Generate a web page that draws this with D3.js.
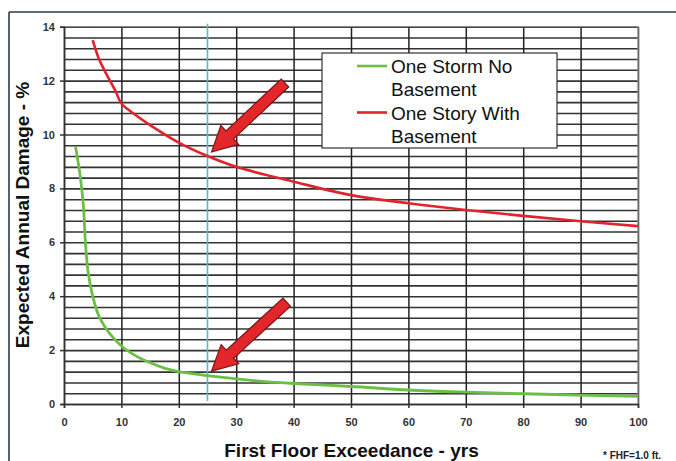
<!DOCTYPE html>
<html>
<head>
<meta charset="utf-8">
<script src="https://cdn.jsdelivr.net/npm/d3@7"></script>
<style>
  html, body { margin: 0; padding: 0; background: #fff; }
  svg { display: block; font-family: "Liberation Sans", Arial, sans-serif; }
</style>
</head>
<body>
<svg id="chart" width="676" height="461"></svg>
<script>
// ---- data ----
const noBasementX = [2, 2.8, 3.4, 3.7, 4.2, 5, 6, 7, 8, 10, 12, 14, 16, 18, 20, 25, 30, 35, 40, 50, 60, 70, 80, 90, 100];
const noBasementY = [9.55, 8.5, 7.3, 6.1, 4.9, 4.0, 3.3, 2.9, 2.6, 2.15, 1.85, 1.62, 1.45, 1.3, 1.2, 1.05, 0.93, 0.83, 0.76, 0.65, 0.52, 0.44, 0.38, 0.33, 0.28];
const basementX = [5, 6, 7, 8, 9, 10, 12, 15, 20, 25, 30, 40, 50, 60, 70, 80, 90, 100];
const basementY = [13.5, 12.85, 12.4, 12.0, 11.6, 11.15, 10.8, 10.35, 9.7, 9.2, 8.8, 8.25, 7.75, 7.45, 7.2, 6.98, 6.78, 6.6];
const seriesNames = ["One Storm No Basement", "One Story With Basement"];
const xTicks = [0, 10, 20, 30, 40, 50, 60, 70, 80, 90, 100];
const yTicks = [0, 2, 4, 6, 8, 10, 12, 14];
const yGridStep = 0.4;
const markerX = 25;
// arrows: tip and tail in data units
const arrowTips = [[25.7, 9.35], [25.7, 1.22]];
const arrowTails = [[38.5, 11.91], [38.8, 3.78]];

// ---- layout ----
const svg = d3.select("#chart");
const pLeft = 64, pRight = 638, pTop = 26.7, pBottom = 404;
const x = d3.scaleLinear().domain([0, 100]).range([pLeft, pRight]);
const y = d3.scaleLinear().domain([0, 14]).range([pBottom, pTop]);

// outer frame
svg.append("line").attr("x1", 9).attr("x2", 676).attr("y1", 12).attr("y2", 12)
  .attr("stroke", "#2c3b46").attr("stroke-width", 1.6);
svg.append("line").attr("x1", 9).attr("x2", 9).attr("y1", 12).attr("y2", 461)
  .attr("stroke", "#2c3b46").attr("stroke-width", 1.6);

// horizontal grid
const yGrid = d3.range(0, 14 + 1e-6, yGridStep);
svg.append("g").attr("transform", `translate(${pLeft},0)`)
  .call(d3.axisLeft(y).tickValues(yGrid).tickSize(-(pRight - pLeft)).tickFormat(""))
  .call(g => g.select(".domain").remove())
  .call(g => g.selectAll("line").attr("stroke", "#333").attr("stroke-width", 1.6));

// vertical grid
svg.append("g").attr("transform", `translate(0,${pBottom})`)
  .call(d3.axisBottom(x).tickValues(xTicks).tickSize(-(pBottom - pTop)).tickFormat(""))
  .call(g => g.select(".domain").remove())
  .call(g => g.selectAll("line").attr("stroke", "#222").attr("stroke-width", 1.5));

// right & top borders lighter
svg.append("line").attr("x1", pRight).attr("x2", pRight).attr("y1", pTop).attr("y2", pBottom)
  .attr("stroke", "#999").attr("stroke-width", 1.2);
svg.append("line").attr("x1", pLeft).attr("x2", pRight).attr("y1", pTop).attr("y2", pTop)
  .attr("stroke", "#888").attr("stroke-width", 1.2);

// axes
const yAxis = svg.append("g").attr("transform", `translate(${pLeft},0)`)
  .call(d3.axisLeft(y).tickValues(yTicks).tickSize(4).tickPadding(5).tickFormat(d3.format("d")));
yAxis.select(".domain").attr("stroke", "#333").attr("stroke-width", 1.5);
yAxis.selectAll("line").attr("stroke", "#333").attr("stroke-width", 1.5);
yAxis.selectAll("text").attr("font-size", 11).attr("font-weight", "bold").attr("fill", "#333")
  .attr("font-family", "Liberation Sans, Arial, sans-serif");

const xAxis = svg.append("g").attr("transform", `translate(0,${pBottom})`)
  .call(d3.axisBottom(x).tickValues(xTicks).tickSize(4).tickPadding(10).tickFormat(d3.format("d")));
xAxis.select(".domain").attr("stroke", "#333").attr("stroke-width", 1.5);
xAxis.selectAll("line").attr("stroke", "#333").attr("stroke-width", 1.5);
xAxis.selectAll("text").attr("font-size", 11).attr("font-weight", "bold").attr("fill", "#333")
  .attr("font-family", "Liberation Sans, Arial, sans-serif");

// cyan marker line
svg.append("line").attr("x1", x(markerX)).attr("x2", x(markerX))
  .attr("y1", pTop - 3).attr("y2", pBottom - 3)
  .attr("stroke", "#5ab8c0").attr("stroke-width", 1.6);

// series
const line = d3.line().x(d => x(d[0])).y(d => y(d[1])).curve(d3.curveCatmullRom.alpha(0.5));
svg.append("path").datum(basementX.map((v, i) => [v, basementY[i]]))
  .attr("d", line).attr("fill", "none").attr("stroke", "#e0242c").attr("stroke-width", 2.6);
svg.append("path").datum(noBasementX.map((v, i) => [v, noBasementY[i]]))
  .attr("d", line).attr("fill", "none").attr("stroke", "#6cbf45").attr("stroke-width", 2.8);

// arrows
arrowTips.forEach((tip, i) => {
  const tx = x(tip[0]), ty = y(tip[1]);
  const bx = x(arrowTails[i][0]), by = y(arrowTails[i][1]);
  const L = Math.hypot(bx - tx, by - ty);
  const ang = Math.atan2(ty - by, tx - bx) * 180 / Math.PI;
  const hl = 25, hw = 13, sw = 5.5;
  const pts = [[0, 0], [-hl, -hw], [-hl, -sw], [-L, -sw], [-L, sw], [-hl, sw], [-hl, hw]];
  svg.append("path")
    .attr("d", "M" + pts.map(p => p.join(",")).join("L") + "Z")
    .attr("transform", `translate(${tx},${ty}) rotate(${ang})`)
    .attr("fill", "#e3262a").attr("stroke", "#7a1414").attr("stroke-width", 1.2)
    .attr("stroke-linejoin", "miter");
});

// legend
const lg = svg.append("g");
lg.append("rect").attr("x", 322).attr("y", 53).attr("width", 235).attr("height", 95)
  .attr("fill", "#fff").attr("stroke", "#333").attr("stroke-width", 1.2);
const legColors = ["#6cbf45", "#e0242c"];
const legLines = [["One Storm No", "Basement"], ["One Story With", "Basement"]];
legLines.forEach((lines, i) => {
  const yy = 66 + i * 46.5;
  lg.append("line").attr("x1", 357).attr("x2", 387).attr("y1", yy).attr("y2", yy)
    .attr("stroke", legColors[i]).attr("stroke-width", 2.6);
  lines.forEach((t, j) => {
    lg.append("text").attr("x", 391).attr("y", yy + 7 + j * 23)
      .attr("font-size", 19).attr("fill", "#111").text(t);
  });
});

// titles
svg.append("text").attr("transform", `translate(29,215) rotate(-90)`)
  .attr("text-anchor", "middle").attr("font-size", 19).attr("font-weight", "bold").attr("fill", "#111")
  .text("Expected Annual Damage - %");
svg.append("text").attr("x", 351.5).attr("y", 457)
  .attr("text-anchor", "middle").attr("font-size", 19).attr("font-weight", "bold").attr("fill", "#111")
  .text("First Floor Exceedance - yrs");
svg.append("text").attr("x", 603).attr("y", 459)
  .attr("font-size", 10).attr("font-weight", "bold").attr("fill", "#222")
  .text("* FHF=1.0 ft.");
</script>
</body>
</html>
